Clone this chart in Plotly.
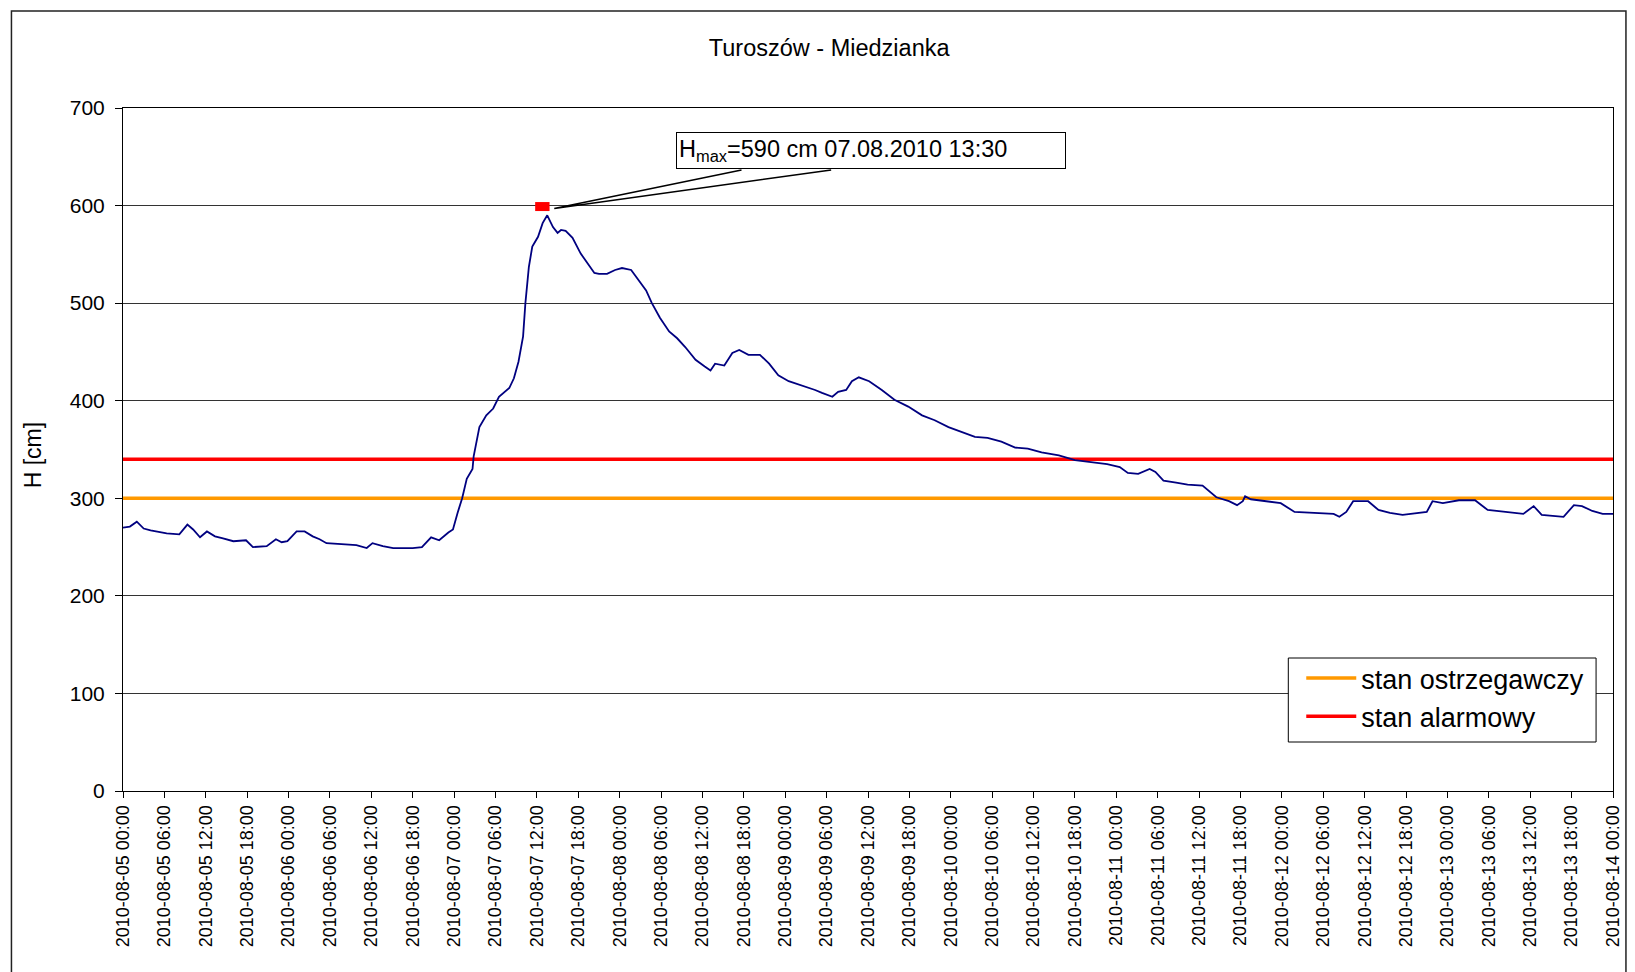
import plotly.graph_objects as go

# ---- data ----
times = [
    "2010-08-05 00:00", "2010-08-05 01:00", "2010-08-05 02:00", "2010-08-05 03:00", "2010-08-05 04:00",
    "2010-08-05 06:20", "2010-08-05 08:10", "2010-08-05 09:20", "2010-08-05 10:10", "2010-08-05 11:10",
    "2010-08-05 12:10", "2010-08-05 13:20", "2010-08-05 14:30", "2010-08-05 16:00", "2010-08-05 17:50",
    "2010-08-05 18:50", "2010-08-05 20:50", "2010-08-05 22:10", "2010-08-05 23:00", "2010-08-05 23:50",
    "2010-08-06 01:10", "2010-08-06 02:20", "2010-08-06 03:30", "2010-08-06 04:30", "2010-08-06 05:30",
    "2010-08-06 07:20", "2010-08-06 09:50", "2010-08-06 11:20", "2010-08-06 12:10", "2010-08-06 13:40",
    "2010-08-06 15:10", "2010-08-06 18:00", "2010-08-06 19:20", "2010-08-06 20:40", "2010-08-06 21:50",
    "2010-08-06 23:10", "2010-08-06 23:50", "2010-08-07 00:30", "2010-08-07 01:10", "2010-08-07 01:50",
    "2010-08-07 02:40", "2010-08-07 02:50", "2010-08-07 03:20", "2010-08-07 03:40", "2010-08-07 04:40",
    "2010-08-07 05:40", "2010-08-07 06:30", "2010-08-07 08:00", "2010-08-07 08:40", "2010-08-07 09:20",
    "2010-08-07 10:00", "2010-08-07 10:20", "2010-08-07 10:50", "2010-08-07 11:20", "2010-08-07 12:10",
    "2010-08-07 12:50", "2010-08-07 13:30", "2010-08-07 14:20", "2010-08-07 15:00", "2010-08-07 15:30",
    "2010-08-07 16:10", "2010-08-07 17:10", "2010-08-07 18:20", "2010-08-07 19:40", "2010-08-07 20:20",
    "2010-08-07 21:00", "2010-08-07 22:10", "2010-08-07 23:20", "2010-08-08 00:20", "2010-08-08 01:40",
    "2010-08-08 02:50", "2010-08-08 03:50", "2010-08-08 04:40", "2010-08-08 05:50", "2010-08-08 07:10",
    "2010-08-08 08:20", "2010-08-08 09:30", "2010-08-08 11:00", "2010-08-08 12:20", "2010-08-08 13:10",
    "2010-08-08 13:50", "2010-08-08 15:10", "2010-08-08 16:20", "2010-08-08 17:20", "2010-08-08 18:40",
    "2010-08-08 20:20", "2010-08-08 21:40", "2010-08-08 23:00", "2010-08-09 00:30", "2010-08-09 02:20",
    "2010-08-09 04:20", "2010-08-09 05:20", "2010-08-09 06:50", "2010-08-09 07:40", "2010-08-09 08:50",
    "2010-08-09 09:40", "2010-08-09 10:40", "2010-08-09 12:10", "2010-08-09 14:00", "2010-08-09 15:50",
    "2010-08-09 17:50", "2010-08-09 19:50", "2010-08-09 21:40", "2010-08-09 23:40", "2010-08-10 01:40",
    "2010-08-10 03:30", "2010-08-10 05:20", "2010-08-10 07:20", "2010-08-10 09:20", "2010-08-10 11:10",
    "2010-08-10 13:10", "2010-08-10 15:40", "2010-08-10 18:00", "2010-08-10 20:20", "2010-08-10 22:40",
    "2010-08-11 00:30", "2010-08-11 01:40", "2010-08-11 03:10", "2010-08-11 04:50", "2010-08-11 05:40",
    "2010-08-11 06:50", "2010-08-11 08:40", "2010-08-11 10:20", "2010-08-11 12:30", "2010-08-11 13:10",
    "2010-08-11 14:30", "2010-08-11 16:20", "2010-08-11 17:30", "2010-08-11 18:20", "2010-08-11 18:40",
    "2010-08-11 19:30", "2010-08-11 21:30", "2010-08-11 23:50", "2010-08-12 01:50", "2010-08-12 04:40",
    "2010-08-12 07:30", "2010-08-12 08:20", "2010-08-12 09:20", "2010-08-12 10:20", "2010-08-12 12:30",
    "2010-08-12 14:00", "2010-08-12 15:40", "2010-08-12 17:30", "2010-08-12 19:50", "2010-08-12 21:00",
    "2010-08-12 21:50", "2010-08-12 23:20", "2010-08-13 01:40", "2010-08-13 04:00", "2010-08-13 05:50",
    "2010-08-13 08:10", "2010-08-13 11:00", "2010-08-13 12:30", "2010-08-13 13:40", "2010-08-13 16:50",
    "2010-08-13 18:20", "2010-08-13 19:30", "2010-08-13 21:00", "2010-08-13 22:30", "2010-08-14 00:00",
]
water_level = [
    270, 271, 276, 269, 267,
    264, 263, 273, 268, 260,
    266, 261, 259, 256, 257,
    250, 251, 258, 255, 256,
    266, 266, 261, 258, 254,
    253, 252, 249, 254, 251,
    249, 249, 250, 260, 257,
    265, 268, 285, 300, 320,
    330, 343, 363, 373, 385,
    392, 404, 413, 423, 440,
    466, 500, 537, 558, 568,
    582, 590, 578, 572, 575,
    574, 567, 551, 537, 531,
    530, 530, 534, 536, 534,
    522, 513, 500, 485, 471,
    464, 455, 442, 435, 431,
    438, 436, 449, 452, 447,
    447, 438, 426, 420, 416,
    411, 408, 404, 409, 411,
    420, 424, 420, 411, 401,
    394, 385, 380, 373, 368,
    363, 362, 358, 352, 351,
    347, 344, 339, 337, 335,
    332, 326, 325, 330, 327,
    318, 316, 314, 313, 309,
    301, 297, 293, 297, 302,
    299, 297, 295, 286, 285,
    284, 281, 286, 297, 297,
    288, 285, 283, 285, 286,
    297, 295, 298, 298, 288,
    286, 284, 292, 283, 281,
    293, 292, 287, 284, 284,
]

range_start = "2010-08-05 00:00"
range_end = "2010-08-14 00:00"
warning_level = 300   # stan ostrzegawczy
alarm_level = 340     # stan alarmowy

hmax_marker_x = ["2010-08-07 11:45", "2010-08-07 13:50"]
hmax_marker_y = [599, 599]

title_text = "Turoszów - Miedzianka"
y_title = "H [cm]"
hmax_label = "H<sub>max</sub>=590 cm 07.08.2010 13:30"
legend_names = ["stan ostrzegawczy", "stan alarmowy"]

FONT = "Liberation Sans, Arial, sans-serif"

# ---- layout geometry (pixels) ----
W, H = 1635, 972
L, R, T, B = 123, 1619, 108, 791
PW, PH = R - L, B - T


def px(xpix):
    return (xpix - L) / PW


def py(ypix):
    return (B - ypix) / PH


fig = go.Figure()

fig.add_trace(go.Scatter(
    x=[range_start, range_end], y=[warning_level, warning_level],
    mode="lines", line=dict(color="#FF9900", width=3.5),
    name=legend_names[0], showlegend=True))
fig.add_trace(go.Scatter(
    x=[range_start, range_end], y=[alarm_level, alarm_level],
    mode="lines", line=dict(color="#FF0000", width=3.5),
    name=legend_names[1], showlegend=True))
fig.add_trace(go.Scatter(
    x=times, y=water_level, mode="lines",
    line=dict(color="#000080", width=1.8), showlegend=False, name="H"))
fig.add_trace(go.Scatter(
    x=hmax_marker_x, y=hmax_marker_y, mode="lines",
    line=dict(color="#FF0000", width=9), showlegend=False, name="Hmax"))

fig.update_layout(
    width=W, height=H,
    margin=dict(l=L, r=W - R, t=T, b=H - B, pad=0),
    paper_bgcolor="white", plot_bgcolor="white",
    font=dict(family=FONT, color="black"),
    title=dict(text=title_text, x=px(832), xref="paper", xanchor="center",
               y=1 - 48 / H, yref="container", yanchor="middle",
               font=dict(size=23.5, family=FONT, color="black")),
    legend=dict(x=px(1306), y=py(654), xanchor="left", yanchor="top",
                bgcolor="rgba(0,0,0,0)", borderwidth=0,
                font=dict(size=27, family=FONT, color="black"),
                itemwidth=50, tracegroupgap=0),
    showlegend=True,
)

fig.update_xaxes(
    type="date", range=[range_start, range_end],
    tick0=range_start, dtick=6 * 3600 * 1000,
    tickformat="%Y-%m-%d %H:%M", tickangle=-90,
    ticks="outside", ticklen=6, tickcolor="black",
    tickfont=dict(size=18, family=FONT, color="black"),
    showgrid=False, showline=True, linecolor="black", linewidth=1, mirror=True,
    zeroline=False,
)
fig.update_yaxes(
    range=[0, 700], dtick=100, tick0=0,
    ticks="outside", ticklen=7, tickcolor="black",
    tickfont=dict(size=21, family=FONT, color="black"),
    ticklabelstandoff=6,
    showgrid=True, gridcolor="#333333", gridwidth=1,
    showline=True, linecolor="black", linewidth=1, mirror=True,
    zeroline=False,
)

# y-axis title
fig.add_annotation(
    xref="paper", yref="paper", x=px(33), y=py(455),
    xanchor="center", yanchor="middle", showarrow=False,
    text=y_title, textangle=-90,
    font=dict(size=23, family=FONT, color="black"),
)

# outer chart border
fig.add_shape(type="rect", xref="paper", yref="paper",
              x0=px(11), x1=px(1632), y0=py(1000), y1=py(11),
              line=dict(color="#222222", width=1.5), layer="below")

# legend frame
fig.add_shape(type="rect", xref="paper", yref="paper",
              x0=px(1293), x1=px(1602), y0=py(742), y1=py(658),
              line=dict(color="black", width=1), fillcolor="white", layer="above")

# callout wedge
fig.add_shape(type="path", xref="paper", yref="paper",
              path=f"M {px(744)} {py(170)} L {px(556)} {py(208.5)} L {px(834)} {py(170)}",
              line=dict(color="black", width=1.5))

fig.add_annotation(
    xref="paper", yref="paper", x=px(874.5), y=py(150.5),
    xanchor="center", yanchor="middle", showarrow=False,
    text=hmax_label, align="left",
    font=dict(size=23.5, family=FONT, color="black"),
    bgcolor="white", bordercolor="black", borderwidth=1, borderpad=2,
    width=384, height=31,
)

fig.write_html(
    "out.html",
    config={"displayModeBar": False},
    post_script="document.body.style.margin='0';document.body.style.overflow='hidden';",
)
